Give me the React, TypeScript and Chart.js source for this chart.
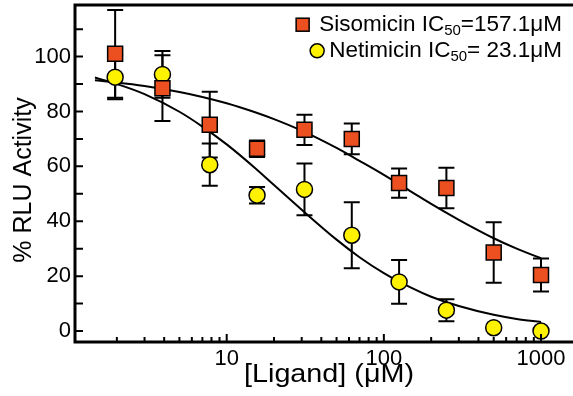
import { useEffect, useRef } from 'react';
import { Chart, registerables } from 'chart.js';

Chart.register(...registerables);

const FONT = "'Liberation Sans', Arial, Helvetica, sans-serif";

// Ligand concentrations (µM)
const concentrations = [1.95, 3.9, 7.8, 15.6, 31.25, 62.5, 125, 250, 500, 1000];
// Measured % RLU activity
const sisomicin = [101, 88.5, 75.2, 66.4, 73.3, 70, 53.9, 52.1, 28.6, 20.4];
const sisomicinErr = [16, 12, 12, 3, 5.5, 5.6, 5.3, 7.4, 11, 6];
const netimicin = [92.5, 93.5, 60.6, 49.5, 51.6, 34.9, 17.9, 7.6, 1.2, 0];
const netimicinErr = [8, 8.5, 7.7, 3, 9.4, 12, 8, 4, 0, 0];

// Fitted dose-response curves
const fitConc = [1.45, 2, 3, 5, 7, 10, 15, 20, 30, 50, 70, 100, 150, 200, 300, 500, 700, 1000];
const sisomicinFit = [91.4, 90.6, 89.3, 87.1, 85.3, 83.0, 79.8, 77.2, 73.0, 66.7, 62.0, 56.9, 50.7, 46.3, 40.5, 33.8, 30.0, 26.5];
const netimicinFit = [92.4, 90.0, 86.3, 79.9, 74.5, 68.0, 59.6, 53.2, 44.2, 33.3, 26.9, 21.1, 15.7, 12.5, 9.1, 5.9, 4.4, 3.3];

// Axis ticks
const yTicks = [0, 10, 20, 30, 40, 50, 60, 70, 80, 90, 100, 110];
const yLabels = [0, 20, 40, 60, 80, 100];
const xMajor = [10, 100, 1000];
const xMinor = [2, 3, 4, 5, 6, 7, 8, 9, 20, 30, 40, 50, 60, 70, 80, 90, 200, 300, 400, 500, 600, 700, 800, 900];

// Titles
const xTitle = '[Ligand] (\u03BCM)';
const yTitle = '% RLU Activity';

// Legend
const legendNames = ['Sisomicin IC', 'Netimicin IC'];
const legendSubs = ['50', '50'];
const legendValues = ['=157.1\u03BCM', '= 23.1\u03BCM'];

const SQUARE_COLOR = '#EC5020';
const CIRCLE_COLOR = '#FFF200';

const errorBarPlugin = {
  id: 'errorBars',
  beforeDatasetsDraw(chart: any) {
    const { ctx } = chart;
    const x = chart.scales.x;
    const y = chart.scales.y;
    ctx.save();
    ctx.strokeStyle = '#000';
    ctx.lineWidth = 2;
    const sets: [number[], number[]][] = [
      [sisomicin, sisomicinErr],
      [netimicin, netimicinErr],
    ];
    for (const [vals, errs] of sets) {
      concentrations.forEach((c, i) => {
        const e = errs[i];
        if (!e) return;
        const px = x.getPixelForValue(c);
        const t = y.getPixelForValue(vals[i] + e);
        const b = y.getPixelForValue(vals[i] - e);
        ctx.beginPath();
        ctx.moveTo(px, t);
        ctx.lineTo(px, b);
        ctx.moveTo(px - 8, t);
        ctx.lineTo(px + 8, t);
        ctx.moveTo(px - 8, b);
        ctx.lineTo(px + 8, b);
        ctx.stroke();
      });
    }
    ctx.restore();
  },
};

const axesPlugin = {
  id: 'axesFrame',
  afterDatasetsDraw(chart: any) {
    const { ctx, chartArea } = chart;
    const { left, right, top, bottom } = chartArea;
    const x = chart.scales.x;
    const y = chart.scales.y;
    ctx.save();
    ctx.strokeStyle = '#000';
    ctx.lineCap = 'butt';
    ctx.lineWidth = 2;
    ctx.beginPath();
    yTicks.forEach((v) => {
      const py = y.getPixelForValue(v);
      ctx.moveTo(left, py);
      ctx.lineTo(left + 8, py);
    });
    xMajor.forEach((v) => {
      const px = x.getPixelForValue(v);
      ctx.moveTo(px, bottom);
      ctx.lineTo(px, bottom - 8);
    });
    xMinor.forEach((v) => {
      const px = x.getPixelForValue(v);
      ctx.moveTo(px, bottom);
      ctx.lineTo(px, bottom - 5);
    });
    ctx.stroke();
    ctx.lineWidth = 3;
    ctx.beginPath();
    ctx.moveTo(left, top - 1.5);
    ctx.lineTo(left, bottom + 1.5);
    ctx.moveTo(left - 1.5, bottom);
    ctx.lineTo(right, bottom);
    ctx.moveTo(left - 1.5, top);
    ctx.lineTo(right, top);
    ctx.stroke();
    ctx.restore();
  },
};

const titlesPlugin = {
  id: 'axisTitles',
  afterDraw(chart: any) {
    const { ctx } = chart;
    ctx.save();
    ctx.fillStyle = '#000';
    ctx.textAlign = 'center';
    ctx.textBaseline = 'middle';
    // x title (slightly wide lettering as in the source)
    ctx.font = `25px ${FONT}`;
    ctx.save();
    ctx.translate(329, 375.5);
    ctx.scale(1.15, 1);
    ctx.fillText(xTitle, 0, 0);
    ctx.restore();
    // y title
    ctx.font = `25px ${FONT}`;
    ctx.save();
    ctx.translate(24, 180);
    ctx.rotate(-Math.PI / 2);
    ctx.fillText(yTitle, 0, 0);
    ctx.restore();
    ctx.restore();
  },
};

const legendPlugin = {
  id: 'customLegend',
  afterDraw(chart: any) {
    const { ctx } = chart;
    const rightEdge = 562;
    const baselines = [30.7, 57.3];
    const mainFont = `22.5px ${FONT}`;
    const subFont = `15px ${FONT}`;
    ctx.save();
    ctx.textBaseline = 'alphabetic';
    ctx.textAlign = 'left';
    for (let i = 0; i < 2; i++) {
      ctx.font = mainFont;
      const wName = ctx.measureText(legendNames[i]).width;
      const wVal = ctx.measureText(legendValues[i]).width;
      ctx.font = subFont;
      const wSub = ctx.measureText(legendSubs[i]).width;
      const start = rightEdge - wName - wSub - wVal;
      const bl = baselines[i];
      ctx.fillStyle = '#000';
      ctx.font = mainFont;
      ctx.fillText(legendNames[i], start, bl);
      ctx.font = subFont;
      ctx.fillText(legendSubs[i], start + wName, bl + 4);
      ctx.font = mainFont;
      ctx.fillText(legendValues[i], start + wName + wSub, bl);
      ctx.lineWidth = 1.5;
      ctx.strokeStyle = '#000';
      if (i === 0) {
        const cx = start - 16.5;
        const cy = bl - 6;
        ctx.fillStyle = SQUARE_COLOR;
        ctx.fillRect(cx - 6.5, cy - 6.5, 13, 13);
        ctx.strokeRect(cx - 6.5, cy - 6.5, 13, 13);
      } else {
        const cx = start - 12;
        const cy = bl - 6.5;
        ctx.fillStyle = CIRCLE_COLOR;
        ctx.beginPath();
        ctx.arc(cx, cy, 7, 0, Math.PI * 2);
        ctx.fill();
        ctx.stroke();
      }
    }
    ctx.restore();
  },
};

export default function App() {
  const canvasRef = useRef<HTMLCanvasElement | null>(null);

  useEffect(() => {
    if (!canvasRef.current) return;
    const chart = new Chart(canvasRef.current, {
      type: 'scatter',
      data: {
        datasets: [
          {
            label: 'Sisomicin',
            data: concentrations.map((c, i) => ({ x: c, y: sisomicin[i] })),
            pointStyle: 'rect',
            pointRadius: 10.6,
            backgroundColor: SQUARE_COLOR,
            borderColor: '#000',
            borderWidth: 1.5,
            showLine: false,
            order: 0,
          },
          {
            label: 'Netimicin',
            data: concentrations.map((c, i) => ({ x: c, y: netimicin[i] })),
            pointStyle: 'circle',
            pointRadius: 8,
            backgroundColor: CIRCLE_COLOR,
            borderColor: '#000',
            borderWidth: 1.5,
            showLine: false,
            order: 0,
          },
          {
            label: 'Sisomicin fit',
            data: fitConc.map((c, i) => ({ x: c, y: sisomicinFit[i] })),
            showLine: true,
            pointRadius: 0,
            borderColor: '#000',
            borderWidth: 2,
            cubicInterpolationMode: 'monotone',
            fill: false,
            order: 2,
          },
          {
            label: 'Netimicin fit',
            data: fitConc.map((c, i) => ({ x: c, y: netimicinFit[i] })),
            showLine: true,
            pointRadius: 0,
            borderColor: '#000',
            borderWidth: 2,
            cubicInterpolationMode: 'monotone',
            fill: false,
            order: 2,
          },
        ] as any,
      },
      options: {
        animation: false,
        responsive: true,
        maintainAspectRatio: false,
        layout: { autoPadding: false, padding: { top: 5, left: 0, right: 0, bottom: 0 } },
        plugins: {
          legend: { display: false },
          tooltip: { enabled: false },
        },
        scales: {
          x: {
            type: 'logarithmic',
            bounds: 'data',
            min: 1.083,
            max: 1598,
            grid: { display: false, drawTicks: false },
            border: { display: false },
            afterBuildTicks: (s: any) => {
              s.ticks = [...xMinor, ...xMajor].sort((a, b) => a - b).map((v) => ({ value: v }));
            },
            ticks: {
              autoSkip: false,
              maxRotation: 0,
              minRotation: 0,
              padding: 4,
              color: '#000',
              font: { family: FONT, size: 22 },
              callback: (v: any) => (xMajor.includes(Number(v)) ? String(v) : ''),
            },
            title: { display: false },
            afterFit: (s: any) => {
              s.height = 54;
              s.paddingLeft = 0;
              s.paddingRight = 0;
            },
          },
          y: {
            type: 'linear',
            bounds: 'data',
            min: -4,
            max: 118.8,
            grid: { display: false, drawTicks: false },
            border: { display: false },
            afterBuildTicks: (s: any) => {
              s.ticks = yTicks.map((v) => ({ value: v }));
            },
            ticks: {
              autoSkip: false,
              padding: 4,
              color: '#000',
              font: { family: FONT, size: 22 },
              callback: (v: any) => (yLabels.includes(Number(v)) ? String(v) : ''),
            },
            title: { display: false },
            afterFit: (s: any) => {
              s.width = 75;
              s.paddingTop = 0;
              s.paddingBottom = 0;
            },
          },
        },
      } as any,
      plugins: [errorBarPlugin, axesPlugin, titlesPlugin, legendPlugin],
    });
    return () => chart.destroy();
  }, []);

  return (
    <div style={{ position: 'absolute', left: 0, top: 0, width: 573, height: 396, background: '#fff' }}>
      <canvas ref={canvasRef} />
    </div>
  );
}
